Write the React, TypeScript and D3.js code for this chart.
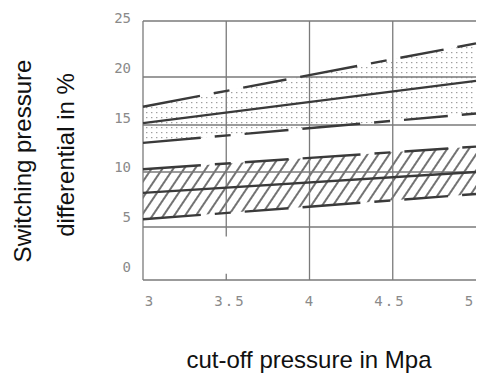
import React from "react";
import * as d3 from "d3";

// ---- data ----
const xTicks = [3, 3.5, 4, 4.5, 5];
const xTickLabels = ["3", "3.5", "4", "4.5", "5"];
const yTicks = [0, 5, 10, 15, 20, 25];
const yTickLabels = ["0", "5", "10", "15", "20", "25"];
const xs = [3, 5];
// upper band (dotted)
const upperHigh = [16.9, 23.0];
const upperMid = [15.2, 19.6];
const upperLow = [13.1, 16.2];
// lower band (hatched)
const lowerHigh = [10.3, 12.7];
const lowerMid = [8.1, 10.0];
const lowerLow = [5.7, 8.0];

const W = 477;
const H = 385;

export default function App() {
  const x = d3.scaleLinear().domain([3, 5]).range([143, 476]);
  // the scanned original grid is slightly uneven: piecewise-linear scale
  const y = d3
    .scaleLinear()
    .domain([0, 5, 10, 15, 20, 25])
    .range([280, 227, 172, 125, 77, 21]);
  // tick labels sit on a slightly different raster in the scanned original
  const xLab = d3.scaleLinear().domain([3, 5]).range([150, 470]);
  const yLab = d3.scaleLinear().domain([0, 25]).range([267, 18]);

  const pts = (vals: number[]) => xs.map((v, i) => [v, vals[i]] as [number, number]);
  const line = d3
    .line<[number, number]>()
    .x((d) => x(d[0]))
    .y((d) => y(d[1]));
  const band = (lo: number[], hi: number[]) =>
    d3
      .area<number>()
      .x((_, i) => x(xs[i]))
      .y0((_, i) => y(lo[i]))
      .y1((_, i) => y(hi[i]))(xs.map((_, i) => i)) || "";

  const grid = "#7a7a7a";
  const ink = "#3a3a3a";
  const dash = "58 14 16 14 44 14";

  return (
    <svg
      width={W}
      height={H}
      style={{ position: "absolute", left: 0, top: 0, background: "#fff" }}
    >
      <defs>
        <pattern id="dots" width="5" height="5" patternUnits="userSpaceOnUse">
          <rect x="1" y="2" width="1.4" height="1.2" fill="#a0a0a0" />
        </pattern>
        <pattern
          id="hatch"
          width="9"
          height="9"
          patternUnits="userSpaceOnUse"
          patternTransform="rotate(34)"
        >
          <line x1="4" y1="0" x2="4" y2="9" stroke="#444" strokeWidth="1.5" />
        </pattern>
      </defs>

      {/* bands */}
      <path d={band(upperLow, upperHigh)} fill="url(#dots)" />
      <path d={band(lowerLow, lowerHigh)} fill="url(#hatch)" />

      {/* grid */}
      {yTicks.map((t) => (
        <line
          key={"gy" + t}
          x1={x(3)}
          x2={x(5)}
          y1={y(t)}
          y2={y(t)}
          stroke={grid}
          strokeWidth={t === 0 ? 1.6 : 1.3}
        />
      ))}
      {xTicks.map((t) =>
        t === 3.5 ? (
          <g key={"gx" + t}>
            <line x1={x(t)} x2={x(t)} y1={y(25)} y2={y(4.1)} stroke={grid} strokeWidth={1.3} />
            <line x1={x(t)} x2={x(t)} y1={y(0)} y2={y(0.6)} stroke={grid} strokeWidth={1.3} />
          </g>
        ) : t === 5 ? null : (
          <line
            key={"gx" + t}
            x1={x(t)}
            x2={x(t)}
            y1={y(25)}
            y2={y(0)}
            stroke={grid}
            strokeWidth={1.3}
          />
        )
      )}

      {/* lines */}
      {[upperHigh, upperLow, lowerHigh, lowerLow].map((v, i) => (
        <path
          key={"d" + i}
          d={line(pts(v)) || ""}
          fill="none"
          stroke={ink}
          strokeWidth={2.4}
          strokeDasharray={dash}
        />
      ))}
      {[upperMid, lowerMid].map((v, i) => (
        <path key={"s" + i} d={line(pts(v)) || ""} fill="none" stroke={ink} strokeWidth={2.4} />
      ))}

      {/* tick labels */}
      <g fontFamily="'DejaVu Sans Mono', monospace" fontSize={14} fill="#8a8a8a">
        {yTicks.map((t, i) => (
          <text key={"yl" + t} x={131} y={yLab(t)} dy="0.36em" textAnchor="end">
            {yTickLabels[i]}
          </text>
        ))}
        {xTicks.map((t, i) => (
          <text
            key={"xl" + t}
            x={xLab(t)}
            y={301}
            dy="0.36em"
            textAnchor="middle"
            letterSpacing="2"
          >
            {xTickLabels[i]}
          </text>
        ))}
      </g>

      {/* axis titles */}
      <g fontFamily="'Liberation Sans', Arial, sans-serif" fontSize={24} fill="#111">
        <text transform="translate(31,161) rotate(-90)" textAnchor="middle">
          Switching pressure
        </text>
        <text transform="translate(74,155) rotate(-90)" textAnchor="middle">
          differential in %
        </text>
        <text x={309} y={368} textAnchor="middle">
          cut-off pressure in Mpa
        </text>
      </g>
    </svg>
  );
}
